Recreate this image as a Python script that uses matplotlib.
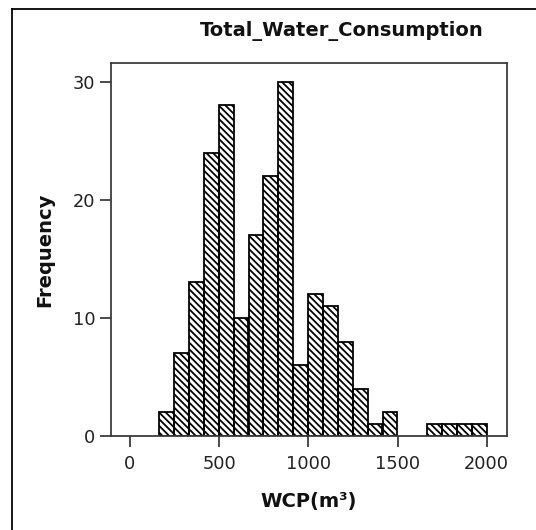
import matplotlib
matplotlib.use("Agg")
import matplotlib.pyplot as plt
from matplotlib.lines import Line2D

# histogram bins (left edge, m3) and counts
bin_lefts = [164, 247, 331, 414, 498, 581, 665, 748, 832, 915, 998,
             1082, 1165, 1249, 1332, 1416, 1499, 1583, 1666, 1749, 1833, 1916]
counts = [2, 7, 13, 24, 28, 10, 17, 22, 30, 6, 12,
          11, 8, 4, 1, 2, 0, 0, 1, 1, 1, 1]
bin_width = 83.45

x_ticks = [0, 500, 1000, 1500, 2000]
y_ticks = [0, 10, 20, 30]

plt.rcParams['hatch.linewidth'] = 1.6
plt.rcParams['font.family'] = ['DejaVu Sans']

DPI = 80
fig = plt.figure(figsize=(536 / DPI, 530 / DPI), dpi=DPI)
ax = fig.add_axes([110.7 / 536, 1 - 436 / 530, 396 / 536, 373 / 530])

# skip empty bins so nothing gets drawn over the baseline
lefts = [l for l, c in zip(bin_lefts, counts) if c > 0]
heights = [c for c in counts if c > 0]
ax.bar(lefts, heights, width=bin_width, align='edge', fill=False,
       hatch='\\\\\\\\', edgecolor='black', linewidth=1.6)

ax.set_xlim(-108, 2112)
ax.set_ylim(0, 31.58)
ax.set_xticks(x_ticks)
ax.set_yticks(y_ticks)

for s in ax.spines.values():
    s.set_color('#3a3a3a')
    s.set_linewidth(1.6)

ax.tick_params(axis='both', length=10, width=1.6, color='#3a3a3a',
               labelsize=16, labelcolor='#222222')
ax.tick_params(axis='y', pad=4)
ax.tick_params(axis='x', pad=7)

ax.set_xlabel("WCP(m³)", fontsize=17.6, fontweight='bold', color='#111111')
ax.set_ylabel("Frequency", fontsize=17.6, fontweight='bold', color='#111111')
ax.xaxis.set_label_coords(0.5, -0.151)
ax.yaxis.set_label_coords(-0.142, 0.5)

ax.set_title("Total_Water_Consumption", fontsize=17.6, fontweight='bold',
             color='#111111', x=0.584, y=1.073, pad=0)

# outer frame: only top and left edges show in the reference
fig.add_artist(Line2D([11.5 / 536, 1], [1 - 8.5 / 530, 1 - 8.5 / 530],
                      transform=fig.transFigure, color='black', lw=1.6))
fig.add_artist(Line2D([11.5 / 536, 11.5 / 536], [0, 1 - 8.5 / 530],
                      transform=fig.transFigure, color='black', lw=1.6))

fig.savefig("out.png", dpi=DPI)
